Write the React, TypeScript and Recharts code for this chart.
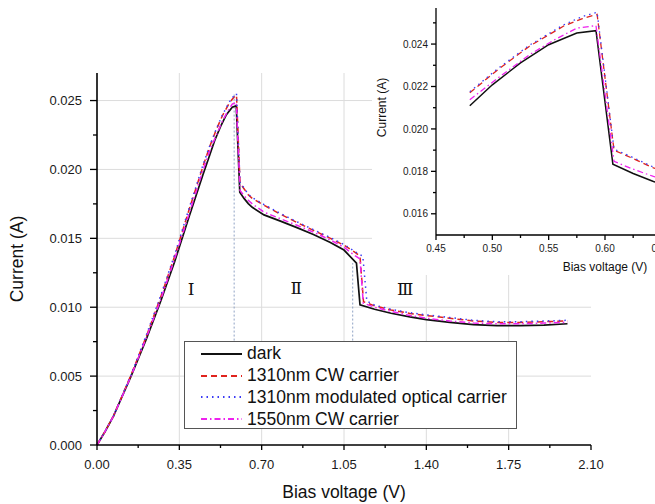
import React from 'react';
import {
  LineChart,
  Line,
  XAxis,
  YAxis,
  CartesianGrid,
  ReferenceLine,
  ReferenceDot,
  Legend,
} from 'recharts';

const FONT = '"Liberation Sans", Arial, sans-serif';

// --- data (bias voltage in V, current in A) ---
const darkV = [0, 0.035, 0.07, 0.145, 0.21, 0.27, 0.33, 0.39, 0.45, 0.48, 0.5, 0.525, 0.55, 0.575, 0.592, 0.607, 0.625, 0.643, 0.66, 0.71, 0.78, 0.85, 0.92, 0.99, 1.05, 1.103, 1.118, 1.18, 1.25, 1.33, 1.4, 1.5, 1.6, 1.7, 1.8, 1.9, 2.0];
const darkI = [0, 0.001, 0.0021, 0.005, 0.0077, 0.0104, 0.0133, 0.0165, 0.0196, 0.02109, 0.02208, 0.02311, 0.02397, 0.02452, 0.02463, 0.01834, 0.0179, 0.01752, 0.01725, 0.0167, 0.01625, 0.01578, 0.01528, 0.01472, 0.01415, 0.0132, 0.01018, 0.00985, 0.00956, 0.0093, 0.0091, 0.0089, 0.00873, 0.00866, 0.00866, 0.0087, 0.0088];

const cw1310V = [0, 0.035, 0.07, 0.145, 0.21, 0.27, 0.33, 0.39, 0.45, 0.48, 0.505, 0.533, 0.563, 0.58, 0.593, 0.608, 0.625, 0.643, 0.66, 0.71, 0.78, 0.85, 0.92, 0.99, 1.05, 1.1, 1.118, 1.133, 1.18, 1.25, 1.33, 1.4, 1.5, 1.6, 1.7, 1.8, 1.9, 2.0];
const cw1310I = [0, 0.001, 0.0021, 0.0051, 0.0079, 0.0107, 0.0137, 0.017, 0.0202, 0.0217, 0.0228, 0.0239, 0.02484, 0.0252, 0.0254, 0.019, 0.0186, 0.01816, 0.0179, 0.0174, 0.01675, 0.01615, 0.01558, 0.01502, 0.0145, 0.01395, 0.0137, 0.0104, 0.0101, 0.0098, 0.00955, 0.0094, 0.0092, 0.009, 0.0089, 0.0089, 0.00895, 0.009];

const mod1310V = [0, 0.035, 0.07, 0.145, 0.21, 0.27, 0.33, 0.39, 0.45, 0.48, 0.505, 0.533, 0.563, 0.58, 0.593, 0.608, 0.625, 0.643, 0.66, 0.71, 0.78, 0.85, 0.92, 0.99, 1.05, 1.1, 1.13, 1.147, 1.18, 1.25, 1.33, 1.4, 1.5, 1.6, 1.7, 1.8, 1.9, 2.0];
const mod1310I = [0, 0.001, 0.0021, 0.0051, 0.008, 0.0108, 0.0138, 0.0171, 0.0203, 0.02175, 0.02285, 0.02395, 0.0249, 0.0253, 0.0255, 0.01905, 0.01865, 0.0182, 0.01795, 0.01745, 0.0168, 0.0162, 0.01563, 0.01507, 0.01455, 0.014, 0.0137, 0.01045, 0.01015, 0.00985, 0.0096, 0.00945, 0.00925, 0.00905, 0.00895, 0.00895, 0.009, 0.00905];

const cw1550V = [0, 0.035, 0.07, 0.145, 0.21, 0.27, 0.33, 0.39, 0.45, 0.48, 0.505, 0.533, 0.555, 0.575, 0.592, 0.608, 0.625, 0.643, 0.66, 0.71, 0.78, 0.85, 0.92, 0.99, 1.05, 1.1, 1.118, 1.132, 1.18, 1.25, 1.33, 1.4, 1.5, 1.6, 1.7, 1.8, 1.9, 2.0];
const cw1550I = [0, 0.001, 0.0021, 0.005, 0.0078, 0.0105, 0.0135, 0.0167, 0.0199, 0.02138, 0.0224, 0.0235, 0.0242, 0.02475, 0.02487, 0.01847, 0.0181, 0.01776, 0.0175, 0.0169, 0.01642, 0.01595, 0.01545, 0.0149, 0.01435, 0.0137, 0.0135, 0.0103, 0.01, 0.0097, 0.0094, 0.0092, 0.009, 0.00885, 0.0088, 0.0088, 0.00885, 0.0089];

const seriesNames = ['dark', '1310nm CW carrier', '1310nm modulated optical carrier', '1550nm CW carrier'];
const seriesColors = ['#111111', '#e0231d', '#3b3bf5', '#ee22ee'];
const seriesDash = [undefined, '6 4', '1.5 4', '6 3 1.5 3'];
const seriesWidth = [1.7, 1.5, 1.5, 1.5];

// axis ticks
const xTicks = [0, 0.175, 0.35, 0.525, 0.7, 0.875, 1.05, 1.225, 1.4, 1.575, 1.75, 1.925, 2.1];
const xMajor = [0, 0.35, 0.7, 1.05, 1.4, 1.75, 2.1];
const yTicks = [0, 0.0025, 0.005, 0.0075, 0.01, 0.0125, 0.015, 0.0175, 0.02, 0.0225, 0.025];
const yMajor = [0, 0.005, 0.01, 0.015, 0.02, 0.025];

const insetXTicks = [0.45, 0.475, 0.5, 0.525, 0.55, 0.575, 0.6, 0.625, 0.65, 0.675, 0.7, 0.725, 0.75];
const insetXMajor = [0.45, 0.5, 0.55, 0.6, 0.65, 0.7, 0.75];
const insetYTicks = [0.016, 0.017, 0.018, 0.019, 0.02, 0.021, 0.022, 0.023, 0.024, 0.025];
const insetYMajor = [0.016, 0.018, 0.02, 0.022, 0.024];

// region markers and boundaries
const regionLabels = [
  { v: 0.4, i: 0.0113, text: 'Ⅰ' },
  { v: 0.847, i: 0.0114, text: 'Ⅱ' },
  { v: 1.31, i: 0.0113, text: 'Ⅲ' },
];
const boundaryV = [0.583, 1.087];
const boundaryTop = [0.0255, 0.0132];

const toRows = (v: number[], i: number[]) => v.map((x, k) => ({ v: x, i: i[k] }));

const series = [
  toRows(darkV, darkI),
  toRows(cw1310V, cw1310I),
  toRows(mod1310V, mod1310I),
  toRows(cw1550V, cw1550I),
];
const insetSeries = series.map((rows) => rows.filter((r) => r.v >= 0.48 && r.v <= 0.66));

const isMajor = (val: number, list: number[]) => list.some((m) => Math.abs(m - val) < 1e-9);

const xTick = (majors: number[], big: number, small: number, dy: number, size: number, digits: number) =>
  (props: any) => {
    const { x, y, payload } = props;
    const major = isMajor(payload.value, majors);
    return (
      <g>
        <line x1={x} x2={x} y1={y} y2={y + (major ? big : small)} stroke="#000" strokeWidth={1.3} />
        {major && (
          <text x={x} y={y + dy} textAnchor="middle" fontSize={size} fontFamily={FONT} fill="#1a1a1a">
            {payload.value.toFixed(digits)}
          </text>
        )}
      </g>
    );
  };

const yTick = (majors: number[], big: number, small: number, gap: number, size: number, digits: number) =>
  (props: any) => {
    const { x, y, payload } = props;
    const major = isMajor(payload.value, majors);
    return (
      <g>
        <line x1={x} x2={x - (major ? big : small)} y1={y} y2={y} stroke="#000" strokeWidth={1.3} />
        {major && (
          <text x={x - big - gap} y={y + size * 0.36} textAnchor="end" fontSize={size} fontFamily={FONT} fill="#1a1a1a">
            {payload.value.toFixed(digits)}
          </text>
        )}
      </g>
    );
  };

const renderLegend = () => (
  <div
    style={{
      width: 333,
      height: 88,
      boxSizing: 'border-box',
      border: '1px solid #555',
      background: '#fff',
      padding: '1px 0 0 16px',
      fontFamily: FONT,
      fontSize: 17.5,
      color: '#111',
    }}
  >
    {seriesNames.map((name, k) => (
      <div key={name} style={{ display: 'flex', alignItems: 'center', height: 21.8 }}>
        <svg width={41} height={6}>
          <line x1={0} y1={3} x2={41} y2={3} stroke={seriesColors[k]} strokeWidth={1.8} strokeDasharray={seriesDash[k]} />
        </svg>
        <span style={{ marginLeft: 5, lineHeight: 1 }}>{name}</span>
      </div>
    ))}
  </div>
);

const App = () => (
  <div style={{ position: 'absolute', left: 0, top: 0, width: 655, height: 504, overflow: 'hidden', background: '#fff' }}>
    <LineChart width={655} height={504} margin={{ top: 73, right: 64, bottom: 0, left: 0 }}>
      <CartesianGrid
        stroke="#dcdcdc"
        strokeWidth={1}
        horizontalValues={[0.005, 0.01, 0.015, 0.02, 0.025]}
        verticalValues={[0.35, 0.7, 1.05, 1.4, 1.75]}
      />
      <XAxis
        type="number"
        dataKey="v"
        domain={[0, 2.1]}
        ticks={xTicks}
        interval={0}
        tick={xTick(xMajor, 5, 3, 24, 13, 2)}
        tickLine={false}
        tickSize={0}
        tickMargin={0}
        axisLine={{ stroke: '#000', strokeWidth: 1.6 }}
        height={59}
        label={{ value: 'Bias voltage (V)', position: 'insideBottom', offset: 6, fontSize: 17.5, fontFamily: FONT, fill: '#111' }}
      />
      <YAxis
        type="number"
        domain={[0, 0.027]}
        ticks={yTicks}
        interval={0}
        tick={yTick(yMajor, 7, 4, 8, 13, 3)}
        tickLine={false}
        tickSize={0}
        tickMargin={0}
        axisLine={{ stroke: '#000', strokeWidth: 1.6 }}
        width={97}
        label={{ value: 'Current (A)', angle: -90, position: 'insideLeft', offset: 17, fontSize: 17.5, fontFamily: FONT, fill: '#111', style: { textAnchor: 'middle' } }}
      />
      {boundaryV.map((bv, k) => (
        <ReferenceLine
          key={bv}
          segment={[{ x: bv, y: 0.007 }, { x: bv, y: boundaryTop[k] }]}
          stroke="#8fa2c4"
          strokeWidth={1}
          strokeDasharray="2 2"
        />
      ))}
      {regionLabels.map((r) => (
        <ReferenceDot
          key={r.text}
          x={r.v}
          y={r.i}
          r={0}
          stroke="none"
          label={{ value: r.text, position: 'center', fontSize: 17, fontFamily: '"DejaVu Serif", "Liberation Serif", serif', fill: '#111' }}
        />
      ))}
      {series.map((rows, k) => (
        <Line
          key={seriesNames[k]}
          data={rows}
          dataKey="i"
          name={seriesNames[k]}
          type="linear"
          stroke={seriesColors[k]}
          strokeWidth={seriesWidth[k]}
          strokeDasharray={seriesDash[k]}
          dot={false}
          isAnimationActive={false}
        />
      ))}
      <Legend
        layout="horizontal"
        verticalAlign="middle"
        align="center"
        content={renderLegend}
        wrapperStyle={{ left: 184, top: 341, width: 333, height: 88 }}
      />
    </LineChart>

    <div style={{ position: 'absolute', left: 372, top: 0, width: 412, height: 275, background: '#fff' }}>
      <LineChart width={412} height={275} margin={{ top: 8, right: 10, bottom: 0, left: 0 }}>
        <XAxis
          type="number"
          dataKey="v"
          domain={[0.45, 0.75]}
          ticks={insetXTicks}
          interval={0}
          tick={xTick(insetXMajor, 5, 3, 16.5, 10, 2)}
          tickLine={false}
          tickSize={0}
          tickMargin={0}
          axisLine={{ stroke: '#000', strokeWidth: 1.3 }}
          height={40}
          label={{ value: 'Bias voltage (V)', position: 'insideBottom', offset: 4, fontSize: 12, fontFamily: FONT, fill: '#111' }}
        />
        <YAxis
          type="number"
          domain={[0.015, 0.0257]}
          ticks={insetYTicks}
          interval={0}
          tick={yTick(insetYMajor, 5, 3, 3, 10, 3)}
          tickLine={false}
          tickSize={0}
          tickMargin={0}
          axisLine={{ stroke: '#000', strokeWidth: 1.3 }}
          width={64}
          label={{ value: 'Current (A)', angle: -90, position: 'insideLeft', offset: 10, dy: -14, fontSize: 12, fontFamily: FONT, fill: '#111', style: { textAnchor: 'middle' } }}
        />
        {insetSeries.map((rows, k) => (
          <Line
            key={seriesNames[k]}
            data={rows}
            dataKey="i"
            type="linear"
            stroke={seriesColors[k]}
            strokeWidth={seriesWidth[k] - 0.2}
            strokeDasharray={seriesDash[k]}
            dot={false}
            isAnimationActive={false}
          />
        ))}
      </LineChart>
    </div>
  </div>
);

export default App;
